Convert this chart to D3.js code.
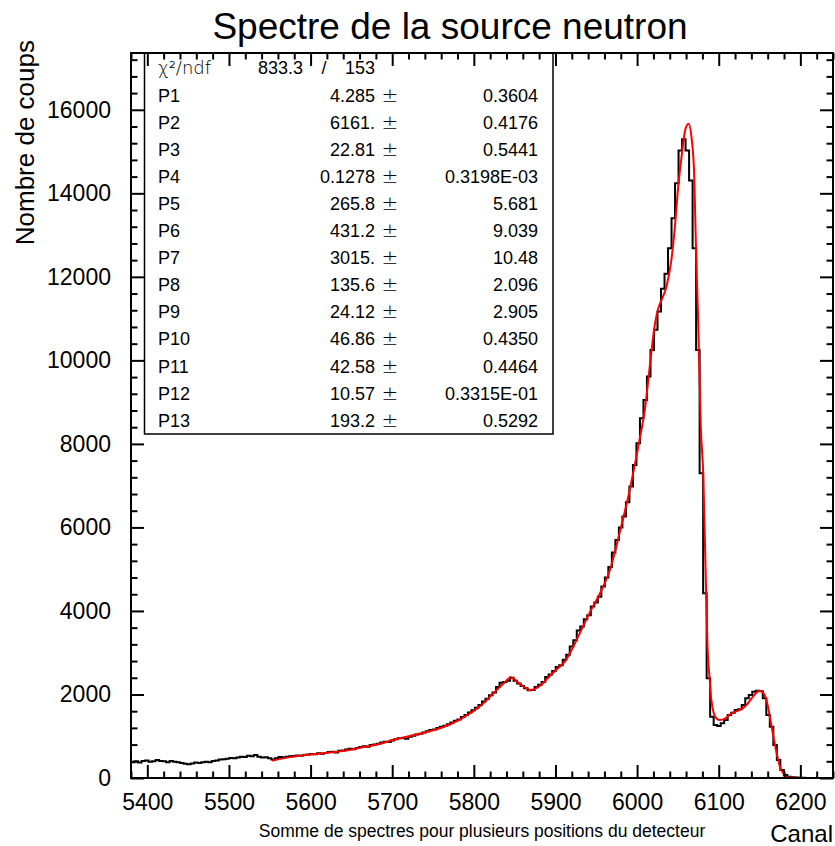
<!DOCTYPE html>
<html>
<head>
<meta charset="utf-8">
<script src="https://cdn.jsdelivr.net/npm/d3@7"></script>
<style>
  html, body { margin: 0; padding: 0; background: #fff; }
  svg { display: block; }
</style>
</head>
<body>
<svg id="chart" width="835" height="846"></svg>
<script>
// Histogram: 200 bins from channel 5380 to 6240
const binLow = 5380;
const binHigh = 6240;
const counts = [
  380, 400, 370, 410, 420, 390, 400, 430, 410, 400,
  380, 410, 390, 380, 360, 340, 330, 350, 370, 360,
  380, 390, 380, 410, 420, 440, 450, 460, 480, 470,
  490, 510, 500, 530, 520, 550, 510, 490, 495, 470,
  440, 470, 500, 490, 510, 520, 525, 540, 530, 550,
  560, 575, 570, 590, 580, 600, 620, 630, 610, 650,
  660, 680, 700, 690, 720, 740, 760, 750, 790, 800,
  820, 850, 870, 860, 900, 930, 950, 960, 940, 990,
  1010, 1040, 1060, 1090, 1120, 1150, 1160, 1200, 1230, 1250,
  1290, 1330, 1370, 1400, 1460, 1510, 1570, 1620, 1680, 1750,
  1830, 1900, 1980, 2050, 2180, 2280, 2300, 2330, 2400, 2330,
  2260, 2200, 2150, 2100, 2110, 2180, 2230, 2300, 2420, 2480,
  2560, 2660, 2700, 2830, 2950, 3150, 3300, 3530, 3625, 3800,
  3900, 4104, 4200, 4343, 4583, 4800, 5050, 5400, 5700, 6000,
  6259, 6600, 6978, 7497, 8016, 8615, 9054, 9613, 10251, 10731,
  11170, 11713, 12072, 12687, 13405, 14243, 15026, 15297, 15026, 14307,
  12687, 10251, 7297, 4423, 2387, 1469, 1269, 1246, 1309, 1389,
  1509, 1565, 1629, 1645, 1749, 1908, 1988, 2068, 2092, 2080,
  1908, 1509, 1230, 790, 431, 192, 72, 30, 15, 10,
  6, 4, 3, 2, 1, 0, 0, 0, 0, 0
];

// Fitted function, sampled along the channel axis
const fitX = [5553, 5575, 5600, 5641, 5662, 5683, 5703, 5723, 5748, 5769,
  5789, 5810, 5824, 5838, 5845, 5856, 5869, 5883, 5891, 5903,
  5912, 5922, 5932, 5942, 5954, 5967, 5979, 5991, 6003, 6010,
  6016, 6022, 6026, 6030, 6036, 6042, 6046, 6050, 6055, 6059,
  6063, 6067, 6070, 6072, 6075, 6078, 6081, 6084, 6086, 6089,
  6091, 6094, 6097, 6101, 6108, 6114, 6120, 6126, 6134, 6142,
  6150, 6155, 6159, 6163, 6167, 6171, 6175, 6179, 6183, 6200, 6240];
const fitY = [415, 500, 560, 650, 730, 810, 920, 1010, 1130, 1270,
  1470, 1760, 2030, 2290, 2411, 2260, 2108, 2240, 2400, 2630,
  2800, 3150, 3560, 3960, 4400, 5000, 5900, 6900, 8096, 8894,
  9932, 10890, 11250, 11449, 11768, 12407, 13126, 14084, 14962, 15521,
  15665, 15281, 14403, 12807, 10810, 8415, 7297, 4902, 3305, 2347,
  1868, 1549, 1429, 1389, 1429, 1525, 1589, 1629, 1749, 1948,
  2092, 2028, 1828, 1429, 990, 591, 272, 112, 16, 0, 0];

// Fit results table
const chi2 = "833.3";
const ndf = "153";
const parNames = ["P1", "P2", "P3", "P4", "P5", "P6", "P7", "P8", "P9", "P10", "P11", "P12", "P13"];
const parValues = ["4.285", "6161.", "22.81", "0.1278", "265.8", "431.2", "3015.", "135.6", "24.12", "46.86", "42.58", "10.57", "193.2"];
const parErrors = ["0.3604", "0.4176", "0.5441", "0.3198E-03", "5.681", "9.039", "10.48", "2.096", "2.905", "0.4350", "0.4464", "0.3315E-01", "0.5292"];

// Axis ticks
const xMajor = [5400, 5500, 5600, 5700, 5800, 5900, 6000, 6100, 6200];
const yMajor = [0, 2000, 4000, 6000, 8000, 10000, 12000, 14000, 16000];

const svg = d3.select("#chart");
const L = 131, R = 833, T = 53, B = 778;
const x = d3.scaleLinear().domain([binLow, binHigh]).range([L, R]);
const y = d3.scaleLinear().domain([0, 17360]).range([B, T]);

const fontMain = "'Liberation Sans', Arial, Helvetica, sans-serif";
const fontNarrow = "'Liberation Sans Narrow', 'Liberation Sans', Arial, sans-serif";

// Title
svg.append("text")
  .attr("x", 450).attr("y", 39)
  .attr("text-anchor", "middle")
  .style("font-family", fontMain).style("font-size", "37px")
  .text("Spectre de la source neutron");

// Clip region for the plotted data
svg.append("defs").append("clipPath").attr("id", "frameClip")
  .append("rect").attr("x", L).attr("y", T).attr("width", R - L).attr("height", B - T);

// Fit statistics box (ticks are drawn over it)
const box = svg.append("g");
box.append("rect").attr("x", 144.5).attr("y", T).attr("width", 408.5).attr("height", 381)
  .attr("fill", "#fff").attr("stroke", "#000").attr("stroke-width", 1.5);

box.append("text").attr("x", 158).attr("y", 74)
  .style("font-family", "'DejaVu Sans', sans-serif").style("font-weight", 200).style("font-size", "18px")
  .text("χ²/ndf");
box.append("text").attr("x", 303).attr("y", 74).attr("text-anchor", "end")
  .style("font-family", fontMain).style("font-size", "18px").text(chi2);
box.append("text").attr("x", 324).attr("y", 74).attr("text-anchor", "middle")
  .style("font-family", fontMain).style("font-size", "18px").text("/");
box.append("text").attr("x", 375).attr("y", 74).attr("text-anchor", "end")
  .style("font-family", fontMain).style("font-size", "18px").text(ndf);

const rowY = i => 101.5 + i * 27.1;
parNames.forEach((name, i) => {
  box.append("text").attr("x", 158).attr("y", rowY(i))
    .style("font-family", fontMain).style("font-size", "18px").text(name);
  box.append("text").attr("x", 375).attr("y", rowY(i)).attr("text-anchor", "end")
    .style("font-family", fontMain).style("font-size", "18px").text(parValues[i]);
  box.append("text").attr("x", 390).attr("y", rowY(i)).attr("text-anchor", "middle")
    .style("font-family", "'DejaVu Sans', sans-serif").style("font-weight", 200).style("font-size", "20px").text("±");
  box.append("text").attr("x", 538).attr("y", rowY(i)).attr("text-anchor", "end")
    .style("font-family", fontMain).style("font-size", "18px").text(parErrors[i]);
});

const plot = svg.append("g").attr("clip-path", "url(#frameClip)");

// Histogram as a step line
const nb = counts.length;
const bw = (binHigh - binLow) / nb;
const stepPts = counts.map((c, i) => [binLow + i * bw, c]);
stepPts.push([binHigh, counts[nb - 1]]);
plot.append("path")
  .attr("d", d3.line().x(d => x(d[0])).y(d => y(d[1])).curve(d3.curveStepAfter)(stepPts))
  .attr("fill", "none").attr("stroke", "#000").attr("stroke-width", 2);

// Fit curve
const fitPts = fitX.map((v, i) => [v, fitY[i]]);
plot.append("path")
  .attr("d", d3.line().x(d => x(d[0])).y(d => y(d[1])).curve(d3.curveMonotoneX)(fitPts))
  .attr("fill", "none").attr("stroke", "#ff0000").attr("stroke-width", 2);

// Axes with inward ticks
const xMinor = d3.range(5380, 6241, 20).filter(v => !xMajor.includes(v));
const yMinor = d3.range(0, 17360, 400).filter(v => !yMajor.includes(v));

function styleAxis(g) {
  g.select(".domain").remove();
  g.selectAll("line").attr("stroke", "#000").attr("stroke-width", 2);
}

// bottom
svg.append("g").attr("transform", `translate(0,${B})`)
  .call(d3.axisBottom(x).tickValues(xMajor).tickSize(-13).tickPadding(16).tickFormat(d3.format("d")))
  .call(styleAxis)
  .call(g => g.selectAll("text").attr("fill", "#000").style("font-family", fontNarrow).style("font-size", "23px"));
svg.append("g").attr("transform", `translate(0,${B})`)
  .call(d3.axisBottom(x).tickValues(xMinor).tickSize(-6.5).tickFormat(""))
  .call(styleAxis);
// top
svg.append("g").attr("transform", `translate(0,${T})`)
  .call(d3.axisTop(x).tickValues(xMajor).tickSize(-13).tickFormat(""))
  .call(styleAxis);
svg.append("g").attr("transform", `translate(0,${T})`)
  .call(d3.axisTop(x).tickValues(xMinor).tickSize(-6.5).tickFormat(""))
  .call(styleAxis);
// left
svg.append("g").attr("transform", `translate(${L},0)`)
  .call(d3.axisLeft(y).tickValues(yMajor).tickSize(-13).tickPadding(20).tickFormat(d3.format("d")))
  .call(styleAxis)
  .call(g => g.selectAll("text").attr("fill", "#000").style("font-family", fontMain).style("font-size", "23px"));
svg.append("g").attr("transform", `translate(${L},0)`)
  .call(d3.axisLeft(y).tickValues(yMinor).tickSize(-6.5).tickFormat(""))
  .call(styleAxis);
// right
svg.append("g").attr("transform", `translate(${R},0)`)
  .call(d3.axisRight(y).tickValues(yMajor).tickSize(-13).tickFormat(""))
  .call(styleAxis);
svg.append("g").attr("transform", `translate(${R},0)`)
  .call(d3.axisRight(y).tickValues(yMinor).tickSize(-6.5).tickFormat(""))
  .call(styleAxis);

// Frame
svg.append("rect").attr("x", L).attr("y", T).attr("width", R - L).attr("height", B - T)
  .attr("fill", "none").attr("stroke", "#000").attr("stroke-width", 2);

// Axis titles
svg.append("text")
  .attr("transform", "translate(34,40) rotate(-90)")
  .attr("text-anchor", "end")
  .style("font-family", fontNarrow).style("font-size", "26px")
  .text("Nombre de coups");
svg.append("text")
  .attr("x", 482).attr("y", 837)
  .attr("text-anchor", "middle")
  .style("font-family", fontNarrow).style("font-size", "17.5px")
  .text("Somme de spectres pour plusieurs positions du detecteur");
svg.append("text")
  .attr("x", 833).attr("y", 842)
  .attr("text-anchor", "end")
  .style("font-family", fontNarrow).style("font-size", "24px")
  .text("Canal");
</script>
</body>
</html>
